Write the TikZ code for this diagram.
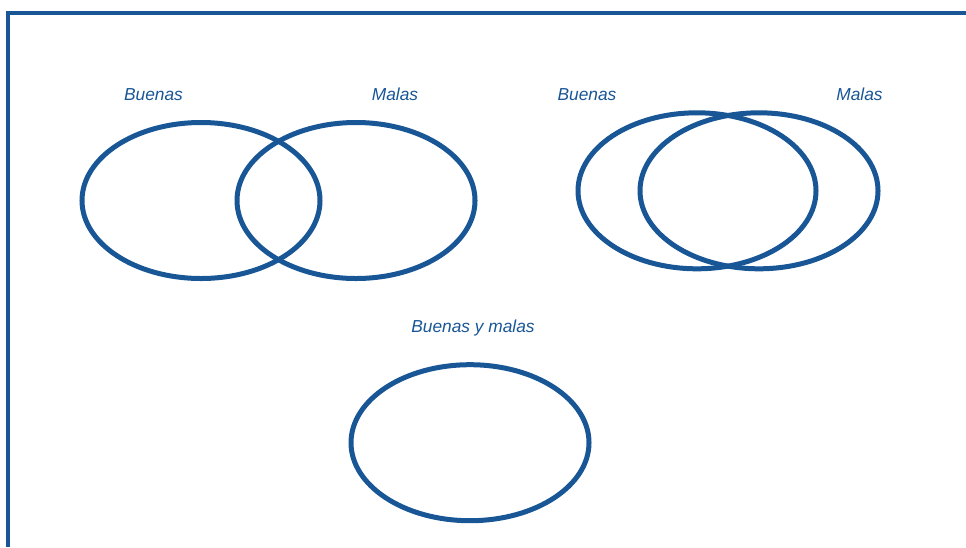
\documentclass[tikz,border=0pt]{standalone}
\usepackage{fontspec}
\setmainfont{Liberation Sans}
\definecolor{vennblue}{RGB}{24,86,150}
\begin{document}
\begin{tikzpicture}[x=0.75pt, y=-0.75pt,
    set/.style={draw=vennblue, line width=3.75pt},
    label/.style={anchor=base, text=vennblue, font=\fontsize{13}{15}\selectfont\itshape, inner sep=0pt}]
    \useasboundingbox (0,0) rectangle (966,547);
    \path [draw=vennblue, line width=3pt] (8,547) |- (966,12.5);
    % two sets overlapping in part
    \draw [set] (201,200.5) ellipse [x radius=119, y radius=78];
    \draw [set] (356,200.5) ellipse [x radius=119, y radius=78];
    \node [label] (buenasA) at (153.5,100) {Buenas};
    \node [label] (malasA) at (395,100) {Malas};
    % two sets overlapping mostly
    \draw [set] (697,190.8) ellipse [x radius=119, y radius=78];
    \draw [set] (759,190.8) ellipse [x radius=119, y radius=78];
    \node [label] (buenasB) at (587,100) {Buenas};
    \node [label] (malasB) at (859.5,100) {Malas};
    % one set
    \draw [set] (470,442.7) ellipse [x radius=119, y radius=78];
    \node [label] (ambas) at (473,332) {Buenas y malas};
\end{tikzpicture}
\end{document}
